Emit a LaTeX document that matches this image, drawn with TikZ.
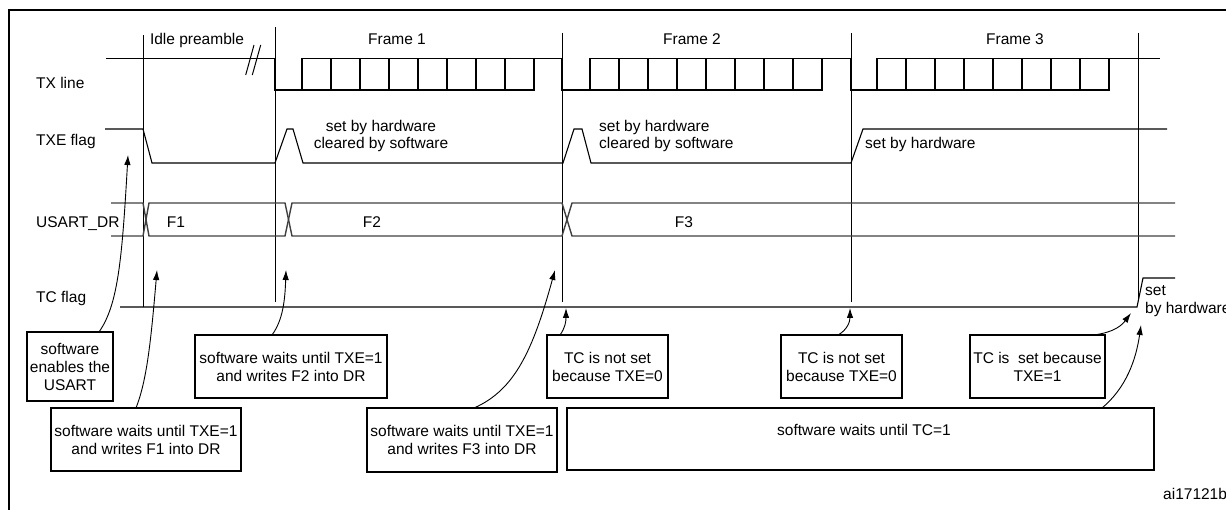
\documentclass[tikz,border=0pt]{standalone}
\usepackage{fontspec}
\setmainfont{Liberation Sans}
\usetikzlibrary{arrows.meta}
\newcommand\dfont{\fontsize{15.5}{18}\selectfont}
\begin{document}
\begin{tikzpicture}[x=1pt,y=-1pt,
  sig/.style={line width=1.1pt, line join=miter},
  bus/.style={line width=1.4pt, black!75},
  vline/.style={line width=0.9pt},
  lbl/.style={anchor=base west, inner sep=0, font=\dfont},
  ctxt/.style={anchor=base, inner sep=0, font=\dfont},
  box/.style={draw, line width=1.1pt, inner sep=0, align=center, font=\dfont},
  arr/.style={line width=0.9pt, -{Latex[length=10pt,width=6.5pt]}},
]
\useasboundingbox (0,0) rectangle (1226,510);
% frame
\draw[line width=2.6pt] (9,512) -- (9,10) -- (1228,10);

% signal labels
\node[lbl] (ltx) at (36,88.5) {TX line};
\node[lbl] (ltxe) at (36,145.5) {TXE flag};
\node[lbl] (ldr) at (36,227.5) {USART\_DR};
\node[lbl] (ltc) at (36,302.5) {TC flag};

% top labels
\node[ctxt] (idle) at (197,44.5) {Idle preamble};
\node[ctxt] (fr1) at (397,44.5) {Frame 1};
\node[ctxt] (fr2) at (692,44.5) {Frame 2};
\node[ctxt] (fr3) at (1015,44.5) {Frame 3};

% vertical markers
\draw[vline] (143,35) -- (143,307);
\draw[vline] (275,27) -- (275,302);
\draw[vline] (562,33) -- (562,302);
\draw[vline] (851,33) -- (851,302);
\draw[vline] (1138,33) -- (1138,300);

% TX line
\def\H{58.7}\def\L{90}
\draw[sig] (106,\H) -- (275,\H) -- (275,\L) -- (534,\L) -- (534,\H);
\draw[sig] (302,\L) -- (302,\H) -- (562,\H) -- (562,\L) -- (822,\L) -- (822,\H);
\draw[sig] (590,\L) -- (590,\H) -- (851,\H) -- (851,\L) -- (1109,\L) -- (1109,\H);
\draw[sig] (877,\L) -- (877,\H) -- (1160,\H);
\foreach \s in {302,590,877}{
  \foreach \k in {1,...,7}{
    \draw[sig] ({\s+29*\k},\L) -- ({\s+29*\k},\H);
  }
}
\draw[line width=1pt] (245.7,75) -- (254,45);
\draw[line width=1pt] (252.3,75) -- (260.7,45);

% TXE flag
\draw[sig] (105,129) -- (143,129) -- (152,163) -- (275,163) -- (287,129) -- (293,129)
  -- (303,163) -- (563,163) -- (574,129) -- (582,129) -- (591,163) -- (851,163)
  -- (863,129) -- (1167,129);
\node[ctxt] (t1) at (381,126+5.5) {set by hardware};
\node[ctxt] (t1b) at (381,143+5.5) {cleared by software};
\node[lbl] (t2) at (599,126+5.5) {set by hardware};
\node[lbl] (t2b) at (599,143+5.5) {cleared by software};
\node[lbl] (t3) at (865,143+5.5) {set by hardware};

% USART_DR
\def\T{203}\def\B{236}
\draw[bus] (111,\T) -- (143,\T) -- (149,\B) -- (285,\B) -- (292,\T) -- (562,\T) -- (572,\B) -- (1175,\B);
\draw[bus] (111,\B) -- (143,\B) -- (149,\T) -- (285,\T) -- (292,\B) -- (562,\B) -- (572,\T) -- (1175,\T);
\node[ctxt] (f1) at (176,227.5) {F1};
\node[ctxt] (f2) at (372,227.5) {F2};
\node[ctxt] (f3) at (684,227.5) {F3};

% TC flag
\draw[sig] (120,307) -- (1137,307) -- (1143,278) -- (1175,278);
\node[lbl] (tcs) at (1145,290+5.5) {set};
\node[lbl] (tcs2) at (1145,308+5.5) {by hardware};

% boxes
\node[box, minimum width=86, minimum height=69] (benable) at (70,366.5) {software\\enables the\\USART};
\node[box, minimum width=192, minimum height=63] (bf2) at (291,366.5) {software waits until TXE=1\\and writes F2 into DR};
\node[box, minimum width=190, minimum height=63] (bf1) at (146,439.5) {software waits until TXE=1\\and writes F1 into DR};
\node[box, minimum width=190, minimum height=64] (bf3) at (462,440) {software waits until TXE=1\\and writes F3 into DR};
\node[box, minimum width=121, minimum height=63] (btc1) at (607.5,366.5) {TC is not set\\because TXE=0};
\node[box, minimum width=121, minimum height=63] (btc2) at (841.5,366.5) {TC is not set\\because TXE=0};
\node[box, minimum width=135, minimum height=63] (btc3) at (1037.5,366.5) {TC is\ \ set because\\TXE=1};
\node[draw, line width=1.1pt, minimum width=587, minimum height=62, inner sep=0] (bwait) at (860.5,439) {};
\node[ctxt] (twait) at (864,430+5.5) {software waits until TC=1};

\node[lbl] (ref) at (1163,494+5.5) {ai17121b};

% arrow coordinates
\coordinate (aA) at (99,332);   \coordinate (tA) at (128,155);
\coordinate (aB) at (136,408);  \coordinate (tB) at (157,270);
\coordinate (aC) at (272,335);  \coordinate (tC) at (286,270);
\coordinate (aD) at (474,408);  \coordinate (tD) at (555,270);
\coordinate (aE) at (560,335);  \coordinate (tE) at (566,308);
\coordinate (aF) at (838,335);  \coordinate (tF) at (850,308);
\coordinate (aG) at (1094,335); \coordinate (tG) at (1131,313);
\coordinate (aH) at (1102,408); \coordinate (tH) at (1141,325);

\draw[arr] (aA) .. controls (118,305) and (122,260) .. (tA);
\draw[arr] (aB) .. controls (147,380) and (151,340) .. (tB);
\draw[arr] (aC) .. controls (283,320) and (285,300) .. (tC);
\draw[arr] (aD) .. controls (515,390) and (533,350) .. (tD);
\draw[arr] (aE) .. controls (565,328) and (566,322) .. (tE);
\draw[arr] (aF) .. controls (847,330) and (850,322) .. (tF);
\draw[arr] (aG) .. controls (1115,332) and (1122,325) .. (tG);
\draw[arr] (aH) .. controls (1126,388) and (1136,360) .. (tH);
\end{tikzpicture}
\end{document}
